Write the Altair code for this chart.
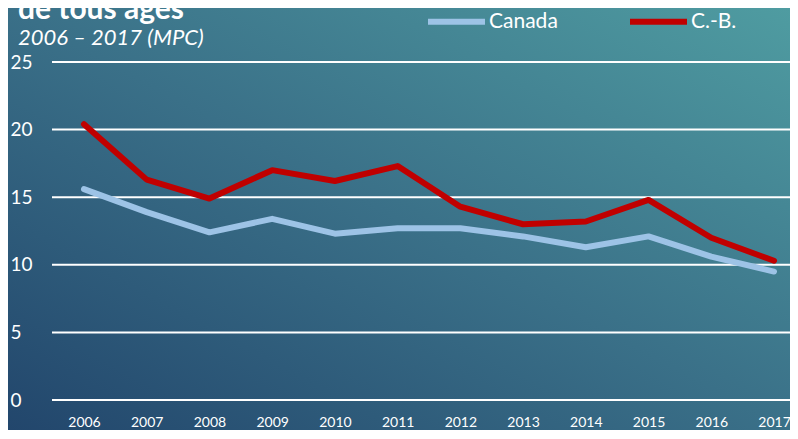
import altair as alt
import pandas as pd

years = [2006, 2007, 2008, 2009, 2010, 2011, 2012, 2013, 2014, 2015, 2016, 2017]
canada = [15.6, 13.9, 12.4, 13.4, 12.3, 12.7, 12.7, 12.1, 11.3, 12.1, 10.6, 9.5]
cb = [20.4, 16.3, 14.9, 17.0, 16.2, 17.3, 14.3, 13.0, 13.2, 14.8, 12.0, 10.3]
series_names = ["Canada", "C.-B."]
series_colors = ["#9dc3e6", "#c00000"]
y_ticks = [0, 5, 10, 15, 20, 25]
title_text = "de tous âges"
subtitle_text = "2006 – 2017 (MPC)"

FONT = "Lato"

rows = []
for y, a, b in zip(years, canada, cb):
    rows.append({"year": y, "serie": "Canada", "val": a})
    rows.append({"year": y, "serie": "C.-B.", "val": b})
df = pd.DataFrame(rows)

W, H = 738, 338
PL, PT, PR, PB = 44, 54, 0, 30

bg = alt.Chart(alt.Data(values=[{}])).mark_rect(
    color=alt.LinearGradient(
        gradient="linear",
        x1=0, y1=1, x2=1, y2=0,
        stops=[
            alt.GradientStop(offset=0, color="#22466c"),
            alt.GradientStop(offset=0.5, color="#3a7088"),
            alt.GradientStop(offset=1, color="#4f9ca1"),
        ],
    )
).encode(
    x=alt.value(-PL), x2=alt.value(W + PR),
    y=alt.value(-PT), y2=alt.value(H + PB),
)

title = alt.Chart(alt.Data(values=[{}])).mark_text(
    font=FONT, fontSize=30, fontWeight="bold", color="white",
    align="left", baseline="alphabetic", text=title_text,
).encode(x=alt.value(-34), y=alt.value(-43))

subtitle = alt.Chart(alt.Data(values=[{}])).mark_text(
    font=FONT, fontSize=22, fontStyle="italic", color="white",
    align="left", baseline="alphabetic", text=subtitle_text,
).encode(x=alt.value(-34), y=alt.value(-17))

grid = alt.Chart(pd.DataFrame({"v": y_ticks})).mark_rule(
    color="white", strokeWidth=2
).encode(
    y=alt.Y("v:Q", scale=alt.Scale(domain=[0, 25], nice=False, zero=True))
)

xscale = alt.Scale(domain=[2005.49, 2017.255], nice=False, zero=False)

lines = alt.Chart(df).mark_line(strokeWidth=6, strokeCap="round", strokeJoin="round").encode(
    x=alt.X("year:Q", scale=xscale,
            axis=alt.Axis(values=years, format="d", title=None, grid=False, domain=False,
                          ticks=False, tickSize=0, labelPadding=15, labelFontSize=14,
                          labelColor="white", labelFont=FONT, labelFlush=False, zindex=1,
                          labelBaseline="top")),
    y=alt.Y("val:Q", scale=alt.Scale(domain=[0, 25], nice=False, zero=True),
            axis=alt.Axis(values=y_ticks, title=None, grid=False, domain=False,
                          ticks=False, tickSize=0, labelPadding=42, labelAlign="left",
                          labelFontSize=19, labelColor="white", labelFont=FONT, zindex=1)),
    color=alt.Color("serie:N",
                    scale=alt.Scale(domain=series_names, range=series_colors),
                    sort=series_names,
                    legend=alt.Legend(title=None, orient="none", direction="horizontal",
                                      legendX=373, legendY=-72,
                                      symbolType="stroke", symbolSize=3249,
                                      symbolStrokeWidth=6, labelOffset=1,
                                      labelFontSize=21, labelColor="white", labelFont=FONT,
                                      columnPadding=60, labelLimit=300)),
    order="year:Q",
)

chart = alt.layer(bg, title, subtitle, grid, lines).properties(
    width=W, height=H,
    autosize=alt.AutoSizeParams(type="none"),
    padding={"left": PL, "top": PT, "right": PR, "bottom": PB},
).configure(background="#2d5c80").configure_view(stroke=None)

chart.save("out.html", embed_options={"renderer": "svg", "actions": False})
